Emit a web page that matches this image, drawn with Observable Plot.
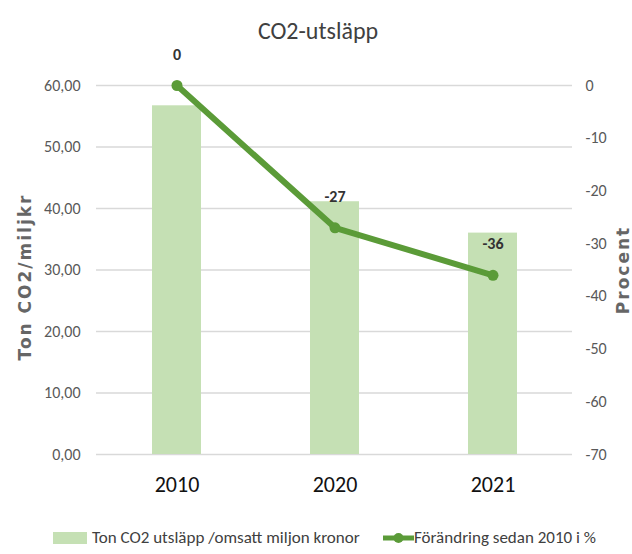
<!DOCTYPE html>
<html>
<head>
<meta charset="utf-8">
<script src="https://cdn.jsdelivr.net/npm/d3@7"></script>
<script src="https://cdn.jsdelivr.net/npm/@observablehq/plot@0.6"></script>
<style>
  html, body { margin: 0; padding: 0; background: #fff; }
  body { width: 632px; height: 554px; overflow: hidden; font-family: "Carlito", "Liberation Sans Narrow", "Liberation Sans", sans-serif; }
  #title { height: 50px; line-height: 62px; text-align: center; font-size: 24px; color: #404040; padding-left: 4px; }
  #legend { position: relative; height: 34px; font-size: 17px; color: #404040; }
  .item { position: absolute; top: 7px; display: flex; align-items: center; }
</style>
</head>
<body>
<div id="title">CO2-utsläpp</div>
<div id="chart"></div>
<div id="legend">
  <div class="item" style="left:53px"><span style="display:inline-block;width:34px;height:12px;background:#c5e0b4;margin-right:5px"></span><span id="l1"></span></div>
  <div class="item" style="left:383px"><svg width="31" height="14" style="margin-right:0px"><line x1="0" y1="7" x2="31" y2="7" stroke="#5b9b38" stroke-width="5"/><circle cx="15.5" cy="7" r="5" fill="#5b9b38"/></svg><span id="l2"></span></div>
</div>
<script>
const years = ["2010", "2020", "2021"];
const emissions = [56.7, 41.1, 36.0];
const change = [0, -27, -36];
const leftTicks = [0, 10, 20, 30, 40, 50, 60];
const rightTicks = [0, -10, -20, -30, -40, -50, -60, -70];
const barName = "Ton CO2 utsläpp /omsatt miljon kronor";
const lineName = "Förändring sedan 2010 i %";
const leftTitle = "Ton CO2/miljkr";
const rightTitle = "Procent";

document.getElementById("l1").textContent = barName;
document.getElementById("l2").textContent = lineName;

// map percent (-70..0) onto left scale (0..60)
const toLeft = p => (p + 70) * 60 / 70;
const fromLeft = v => Math.round(v * 70 / 60 - 70);

const data = years.map((y, i) => ({year: y, em: emissions[i], pct: change[i], yp: toLeft(change[i])}));

const font = getComputedStyle(document.body).fontFamily;
const green = "#5b9b38";

const chart = Plot.plot({
  width: 632,
  height: 470,
  marginTop: 35,
  marginBottom: 66,
  marginLeft: 96,
  marginRight: 60,
  style: {fontFamily: font, background: "white", overflow: "visible"},
  x: {type: "band", domain: years, paddingInner: 0.69, paddingOuter: 0.345, label: null},
  y: {domain: [0, 60], label: null},
  marks: [
    Plot.ruleY(leftTicks, {stroke: "#d9d9d9", strokeWidth: 1.5}),
    Plot.barY(data, {x: "year", y: "em", fill: "#c5e0b4"}),
    Plot.line(data, {x: "year", y: "yp", stroke: green, strokeWidth: 6, strokeLinecap: "round"}),
    Plot.dot(data, {x: "year", y: "yp", r: 5.5, fill: green}),
    Plot.text(data, {x: "year", y: "yp", text: d => String(d.pct), dy: -31, fontSize: 16, fontWeight: "bold", fill: "#333"}),
    Plot.axisY(leftTicks, {anchor: "left", tickSize: 0, tickPadding: 16, fontSize: 16, color: "#595959", label: null,
      tickFormat: d => d.toFixed(2).replace(".", ",")}),
    Plot.axisY(rightTicks.map(toLeft), {anchor: "right", tickSize: 0, tickPadding: 13, fontSize: 16, color: "#595959", label: null,
      tickFormat: d => String(fromLeft(d))}),
    Plot.axisX({tickSize: 0, tickPadding: 22, fontSize: 22, color: "#111", label: null}),
    Plot.text([leftTitle], {frameAnchor: "left", textAnchor: "middle", dx: -71, dy: 7, rotate: -90, fontSize: 17, fontWeight: "bold", fill: "#666", fontFamily: "DejaVu Sans"}),
    Plot.text([rightTitle], {frameAnchor: "right", textAnchor: "middle", dx: 51, rotate: -90, fontSize: 17, fontWeight: "bold", fill: "#666", fontFamily: "DejaVu Sans"})
  ]
});
d3.select(chart).selectAll("text")
  .filter(function() { return this.textContent === leftTitle || this.textContent === rightTitle; })
  .attr("letter-spacing", "2");
document.getElementById("chart").appendChild(chart);
</script>
</body>
</html>
